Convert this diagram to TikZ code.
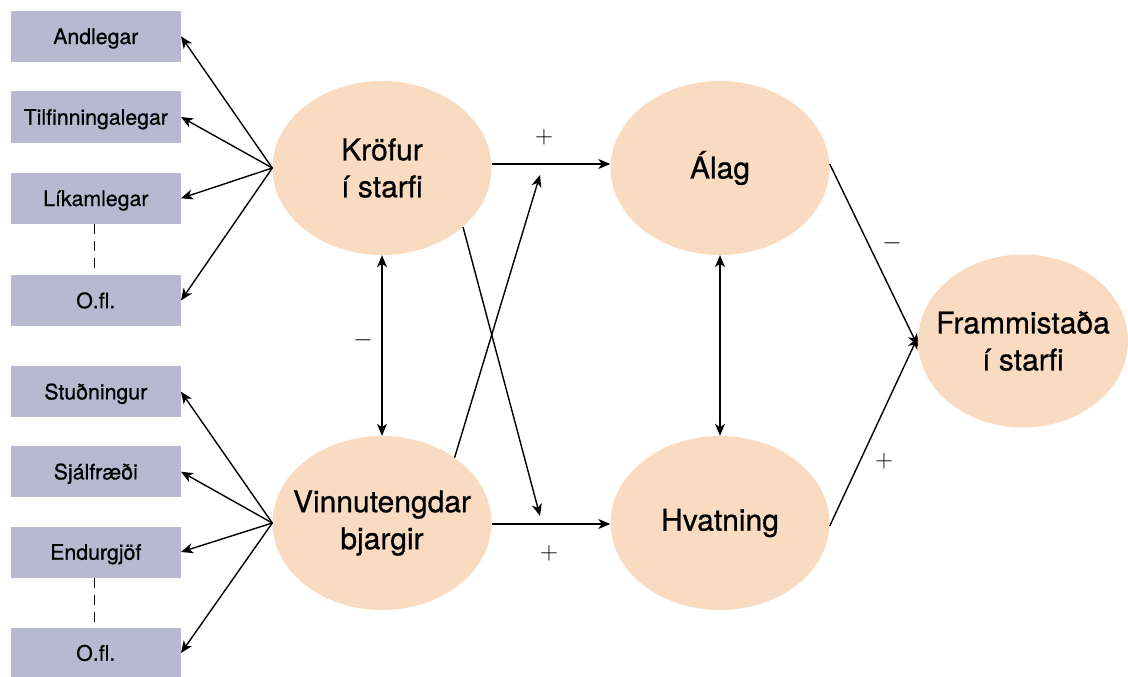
\documentclass[tikz,border=0pt]{standalone}
\usepackage{fontspec}
\setmainfont{TeX Gyre Heros}[FakeBold=0.7]
\usetikzlibrary{arrows.meta,shapes.geometric,calc}
\definecolor{boxfill}{HTML}{B8B9D1}
\definecolor{ellfill}{HTML}{F9DBC2}
\begin{document}
\begin{tikzpicture}[x=1pt,y=-1pt,
  catbox/.style={rectangle,fill=boxfill,minimum width=170pt,minimum height=51pt,inner sep=0pt,
    text height=18pt,text depth=2.6pt,font=\fontsize{21.3}{24}\selectfont},
  oval/.style={ellipse,fill=ellfill,minimum width=219pt,minimum height=174pt,inner sep=-35pt,
    align=center,font=\fontsize{30}{37}\selectfont},
  conn/.style={line width=1.4pt,-{Stealth[length=12pt,width=10pt,inset=3.5pt]}},
  biconn/.style={line width=1.4pt,{Stealth[length=12pt,width=10pt,inset=3.5pt]}-{Stealth[length=12pt,width=10pt,inset=3.5pt]}},
  dashline/.style={line width=1.2pt,dash pattern=on 10pt off 7pt},
  sign/.style={inner sep=0pt,font=\fontsize{26}{26}\selectfont}]
\useasboundingbox (0,0) rectangle (1128,677);

% boxes
\node[catbox] (b1) at (95.8,36.3) {Andlegar};
\node[catbox] (b2) at (95.8,117) {Tilfinningalegar};
\node[catbox] (b3) at (95.8,198.3) {Líkamlegar};
\node[catbox] (b4) at (95.8,300.5) {O.fl.};
\node[catbox] (b5) at (95.8,391.7) {Stuðningur};
\node[catbox] (b6) at (95.8,471.7) {Sjálfræði};
\node[catbox] (b7) at (95.8,552) {Endurgjöf};
\node[catbox] (b8) at (95.8,653) {O.fl.};

\coordinate (d1) at (94.3,268);
\coordinate (d2) at (94.3,622);
\draw[dashline] (b3.south -| d1) -- (d1);
\draw[dashline] (b7.south -| d2) -- (d2);

% ellipses
\node[oval] (k) at (382,168) {Kröfur\\í starfi};
\node[oval] (v) at (382,523) {Vinnutengdar\\bjargir};
\node[oval] (a) at (720,168) {Álag};
\node[oval] (h) at (720,523) {Hvatning};
\node[oval,minimum width=210pt,minimum height=173pt] (f) at (1023,341) {Frammistaða\\í starfi};

% fan arrows
\foreach \b in {b1,b2,b3,b4} \draw[conn] (k.west) -- (\b.east);
\foreach \b in {b5,b6,b7,b8} \draw[conn] (v.west) -- (\b.east);

% horizontal arrows
\draw[conn] ([yshift=4pt]k.east) -- ([yshift=4pt]a.west);
\draw[conn] ([yshift=-1pt]v.east) -- ([yshift=-1pt]h.west);

% crossing arrows
\coordinate (kx) at (540,516);
\coordinate (vx) at (540,175);
\draw[conn] (k.-36) -- (kx);
\draw[conn] (v.42) -- (vx);

% vertical double arrows
\draw[biconn] (k.south) -- (v.north);
\draw[biconn] (a.south) -- (h.north);

% to performance
\draw[conn] ([yshift=4pt]a.east) -- ([yshift=-5pt]f.west);
\draw[conn] ([yshift=-3pt]h.east) -- ([yshift=4pt]f.west);

% signs
\node[sign] (s1) at (544,137) {$+$};
\node[sign] (s2) at (549,553) {$+$};
\node[sign] (s3) at (363,340) {$-$};
\node[sign] (s4) at (892,243) {$-$};
\node[sign] (s5) at (884,461) {$+$};
\end{tikzpicture}
\end{document}
